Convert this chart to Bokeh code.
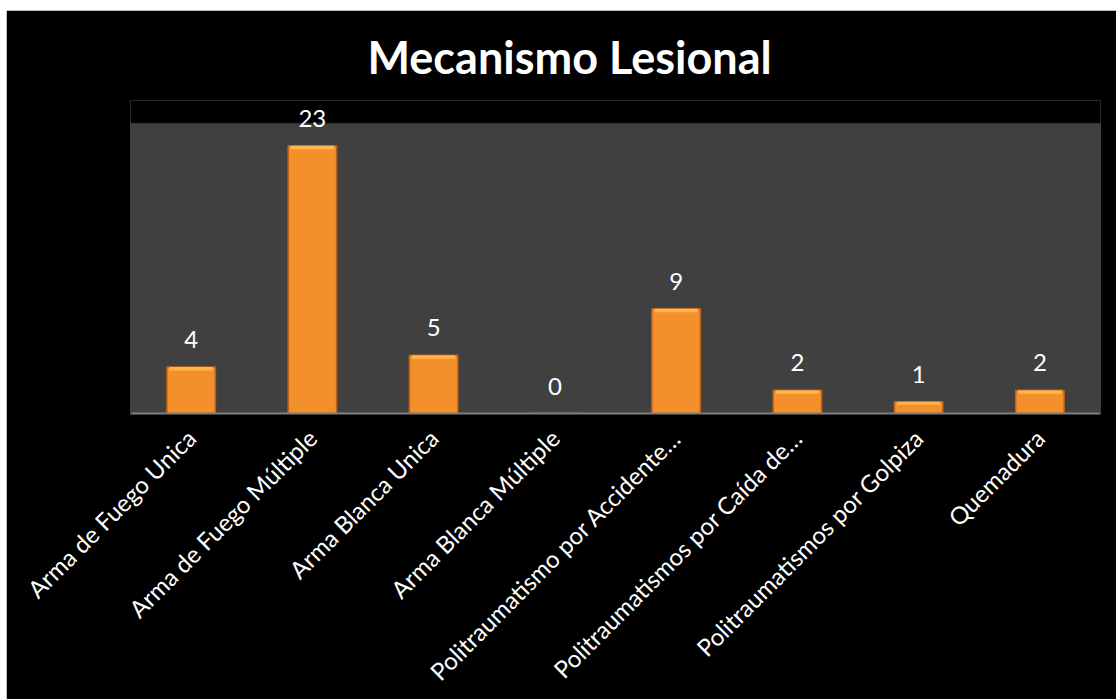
import math
from bokeh.plotting import figure
from bokeh.models import ColumnDataSource, FactorRange, Range1d, LabelSet, Spacer, BoxAnnotation, Span
from bokeh.layouts import column, row
from bokeh.core.properties import value
from bokeh.embed import file_html
from bokeh.resources import INLINE

categories = [
    "Arma de Fuego Unica",
    "Arma de Fuego Múltiple",
    "Arma Blanca Unica",
    "Arma Blanca Múltiple",
    "Politraumatismo por Accidente…",
    "Politraumatismos por Caída de…",
    "Politraumatismos por Golpiza",
    "Quemadura",
]
values = [4, 23, 5, 0, 9, 2, 1, 2]
y_max = 25

bevel = [min(0.3, v * 0.25) for v in values]
source = ColumnDataSource(dict(
    cat=categories,
    val=values,
    lab=[str(v) for v in values],
    hl_bottom=[v - b for v, b in zip(values, bevel)],
))

plot_h = 291
extra = 22
y_end = y_max * (plot_h + extra) / plot_h
p = figure(
    x_range=FactorRange(*categories, range_padding=0),
    y_range=Range1d(0, y_end),
    frame_width=970, frame_height=plot_h + extra,
    min_border_left=124, min_border_right=16,
    min_border_top=90, min_border_bottom=286,
    output_backend="svg", toolbar_location=None,
    background_fill_color="#000000",
    border_fill_color="#000000",
)
p.outline_line_color = None

p.add_layout(BoxAnnotation(bottom=0, top=y_max, fill_color="#404040",
                           fill_alpha=1, line_color=None, level="underlay"))

p.vbar(x="cat", top="val", bottom=0, width=0.4, source=source,
       fill_color="#F3902C", line_color="#B8601A", line_width=1.5)
p.vbar(x="cat", top="val", bottom="hl_bottom", width=0.36, source=source,
       fill_color="#FFB44E", line_color=None)

# mask the frame edges so no light outline shows
p.add_layout(Span(location=0, dimension="height", line_color="#404040", line_width=3, level="overlay"))
p.add_layout(Span(location=len(categories), dimension="height", line_color="#404040", line_width=3, level="overlay"))
p.add_layout(BoxAnnotation(bottom=y_max, fill_color="#000000", fill_alpha=1,
                           line_color="#000000", line_width=3, level="overlay"))

labels = LabelSet(x="cat", y="val", text="lab", source=source,
                  text_align="center", text_baseline="alphabetic", y_offset=19,
                  text_color="#FFFFFF", text_font=value("Lato"), text_font_size="24px",
                  level="overlay")
p.add_layout(labels)

p.title.text = "Mecanismo Lesional"
p.title.text_color = "#FFFFFF"
p.title.text_font = "Lato"
p.title.text_font_size = "45px"
p.title.text_font_style = "bold"
p.title.align = "left"
p.title.offset = 237
p.title.standoff = 33

p.yaxis.visible = False
p.xgrid.grid_line_color = None
p.ygrid.grid_line_color = None
p.xaxis.axis_line_color = "#808080"
p.xaxis.axis_line_width = 2
p.xaxis.major_tick_line_color = None
p.xaxis.minor_tick_line_color = None
p.xaxis.major_label_orientation = math.pi / 4
p.xaxis.major_label_text_color = "#FFFFFF"
p.xaxis.major_label_text_font = "Lato"
p.xaxis.major_label_text_font_size = "24px"
p.xaxis.major_label_standoff = 14

layout = column(Spacer(height=10), row(Spacer(width=6), p))

open("out.html", "w").write(file_html(layout, INLINE))
